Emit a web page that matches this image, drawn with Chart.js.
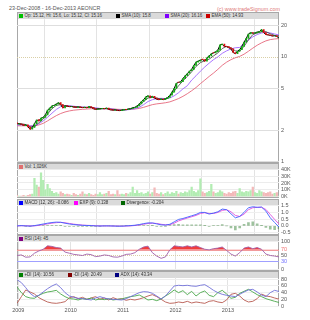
<!DOCTYPE html>
<html><head><meta charset="utf-8">
<script src="https://cdn.jsdelivr.net/npm/chart.js@4.4.0/dist/chart.umd.min.js"></script>
<style>
html,body{margin:0;padding:0;background:#fff;width:310px;height:320px;overflow:hidden;font-family:"Liberation Sans",Arial,sans-serif;}
body{position:relative;}
canvas{position:absolute;left:0;}
.frame{position:absolute;left:17px;width:262px;border:1px solid #a8a8a8;box-sizing:border-box;}
.bar{position:absolute;left:18px;width:260px;height:6px;background:#dadada;}
.lg{position:absolute;top:0;font-size:4.5px;line-height:6px;color:#333;white-space:nowrap;letter-spacing:-0.05px;}
.sq{display:inline-block;width:4px;height:4px;margin-right:1.5px;vertical-align:-0.5px;}
.txt{position:absolute;white-space:nowrap;}
</style>
</head><body>
<div class="txt" style="left:9px;top:5px;font-size:5.4px;color:#555;">23-Dec-2008 - 16-Dec-2013 AEONCR</div>
<div class="txt" style="right:30px;top:6px;font-size:5.4px;color:#e07878;">(c) www.tradeSignum.com</div>
<script>
// ---------- data ----------
const startYear = 2008.975;
const endYear = 2013.975;
const yearTicks = [2009, 2010, 2011, 2012, 2013];
const priceTicks = [1, 2, 5, 10, 20];
const volumeTicks = [0, 10, 20, 30, 40];
const macdTicks = [-0.5, 0, 0.5, 1, 1.5];
const rsiTicks = [0, 30, 50, 70, 100];
const dmiTicks = [0, 20, 40, 60, 80];

// semi-monthly price samples
const close = [2.31,2.30,2.27,2.22,2.25,2.15,2.04,2.12,2.30,2.50,
 2.45,2.60,2.65,2.80,3.10,3.25,3.40,3.45,3.55,3.65,
 3.50,3.25,3.40,3.38,3.35,3.36,3.32,3.30,3.33,3.30,
 3.28,3.30,3.27,3.35,3.30,3.20,3.15,3.18,3.20,3.22,
 3.20,3.24,3.15,3.12,3.10,3.12,3.08,3.07,3.10,3.15,
 3.13,3.18,3.20,3.27,3.30,3.40,3.55,3.75,3.90,4.15,
 4.25,4.10,4.20,4.05,3.95,3.90,3.95,3.90,4.00,4.10,
 4.30,4.60,5.00,5.60,5.70,5.80,6.20,6.60,6.90,7.30,
 7.60,8.30,8.90,9.10,9.30,9.40,9.10,9.80,10.2,10.7,
 10.9,11.2,11.6,13.0,13.2,12.6,12.5,12.2,11.9,11.0,
 10.7,11.3,11.7,12.6,13.8,15.0,16.5,17.0,16.8,16.9,
 17.2,17.4,18.2,17.0,16.3,16.2,16.0,15.8,15.9,15.6,
 15.16];
const open = [2.35,2.28,2.30,2.27,2.20,2.25,2.14,2.04,2.12,2.30,
 2.52,2.45,2.60,2.65,2.80,3.10,3.25,3.42,3.45,3.55,
 3.66,3.50,3.25,3.42,3.38,3.34,3.36,3.32,3.30,3.33,
 3.30,3.28,3.30,3.27,3.35,3.30,3.20,3.15,3.18,3.20,
 3.22,3.20,3.24,3.15,3.12,3.10,3.12,3.08,3.07,3.10,
 3.15,3.13,3.18,3.20,3.27,3.30,3.40,3.55,3.75,3.90,
 4.15,4.25,4.10,4.20,4.05,3.95,3.90,3.95,3.90,4.00,
 4.10,4.30,4.60,5.00,5.75,5.70,5.80,6.20,6.60,7.00,
 7.40,7.60,8.30,8.90,9.10,9.50,9.40,9.10,9.80,10.2,
 11.0,10.9,11.2,11.6,13.0,13.2,12.6,12.5,12.2,11.9,
 11.0,10.7,11.3,11.7,12.6,13.8,15.0,16.5,17.0,16.8,
 16.9,17.2,17.4,18.2,17.0,16.3,16.2,16.0,15.8,15.9,
 15.12];
// volume, thousands
const volume = [2,1,1,2,1,2,3,4,27,17,
 14,35,24,10,18,12,8,5,6,4,
 7,5,3,4,3,2,5,3,2,4,
 7,4,3,5,3,2,4,3,6,3,
 4,5,8,3,4,3,9,3,4,3,
 5,4,6,14,5,9,5,6,4,5,
 7,4,6,13,5,4,6,3,5,7,
 4,6,5,8,4,6,5,7,6,9,
 14,8,6,9,26,7,5,6,8,18,
 7,5,6,9,7,5,4,6,5,7,
 8,5,12,7,6,8,7,9,14,6,
 5,9,7,6,5,6,7,4,5,6,
 1];

// monthly indicator samples
const sma10 = [2.30,2.30,2.26,2.15,2.15,2.35,2.55,2.85,3.20,3.45,
 3.50,3.42,3.38,3.35,3.32,3.30,3.30,3.30,3.22,3.18,
 3.21,3.20,3.14,3.10,3.10,3.14,3.20,3.28,3.45,3.75,
 4.05,4.10,4.05,3.95,3.95,4.20,4.70,5.30,5.90,6.50,
 7.20,8.10,8.80,9.20,9.50,10.2,10.9,12.0,12.6,12.2,
 11.4,11.3,12.6,14.5,16.3,16.9,17.3,17.4,16.6,16.0,
 15.8];
const sma20 = [2.23,2.25,2.24,2.20,2.20,2.30,2.45,2.65,2.90,3.15,
 3.35,3.42,3.42,3.38,3.34,3.32,3.30,3.30,3.27,3.22,
 3.20,3.20,3.18,3.13,3.10,3.12,3.15,3.20,3.30,3.50,
 3.75,3.90,4.00,4.02,4.00,4.05,4.25,4.55,4.95,5.30,
 6.00,6.60,7.30,8.00,8.70,9.40,10.0,10.8,11.4,11.9,
 12.2,12.3,13.5,14.5,15.5,16.3,16.9,17.1,16.9,16.5,
 16.16];
const ema50 = [2.20,2.20,2.20,2.19,2.20,2.24,2.32,2.45,2.60,2.75,
 2.88,2.98,3.05,3.10,3.13,3.16,3.18,3.20,3.20,3.20,
 3.20,3.20,3.18,3.16,3.15,3.15,3.16,3.18,3.22,3.30,
 3.40,3.50,3.56,3.60,3.65,3.72,3.85,4.00,4.20,4.45,
 4.75,5.10,5.55,6.00,6.50,7.00,7.60,8.30,8.90,9.40,
 9.80,10.1,10.6,11.3,12.1,12.9,13.6,14.2,14.6,14.8,
 14.93];
const macd = [0.00,0.02,0.00,-0.02,0.02,0.08,0.14,0.20,0.25,0.28,
 0.27,0.20,0.14,0.10,0.07,0.04,0.03,0.02,0.00,-0.01,
 0.00,0.00,-0.01,-0.02,-0.02,0.00,0.02,0.05,0.10,0.17,
 0.22,0.22,0.15,0.08,0.06,0.12,0.30,0.48,0.55,0.65,
 0.75,0.85,1.00,1.00,0.88,0.95,1.05,1.25,1.20,0.90,
 0.60,0.70,1.00,1.35,1.42,1.38,1.40,1.10,0.60,0.25,
 -0.086];
const signal = [0.00,0.01,0.01,0.00,0.00,0.04,0.09,0.15,0.20,0.24,
 0.26,0.23,0.18,0.13,0.09,0.06,0.04,0.03,0.01,0.00,
 0.00,0.00,-0.01,-0.01,-0.02,-0.01,0.00,0.03,0.07,0.12,
 0.18,0.20,0.18,0.12,0.08,0.09,0.20,0.37,0.48,0.58,
 0.68,0.78,0.92,0.98,0.92,0.92,1.00,1.15,1.20,1.05,
 0.78,0.70,0.88,1.20,1.35,1.38,1.38,1.22,0.85,0.48,
 0.138];
const divergence = [0.00,0.01,-0.01,-0.02,0.02,0.04,0.05,0.05,0.05,0.04,
 0.01,-0.03,-0.04,-0.03,-0.02,-0.02,-0.01,-0.01,-0.01,-0.01,
 0.00,0.00,0.00,-0.01,0.00,0.01,0.02,0.02,0.03,0.05,
 0.04,0.02,-0.03,-0.04,-0.02,0.03,0.10,0.11,0.07,0.07,
 0.07,0.07,0.08,0.02,-0.04,0.03,0.05,0.10,0.00,-0.15,
 -0.30,-0.15,0.12,0.25,0.30,0.15,0.02,-0.12,-0.25,-0.28,
 -0.204];
const rsi = [50,52,44,45,58,66,72,84,82,78,
 76,62,58,54,52,50,55,53,46,48,
 52,50,45,44,48,54,55,60,72,80,
 83,60,48,40,45,70,84,82,80,84,
 80,84,78,72,70,74,76,80,68,55,
 48,60,76,80,74,78,72,55,50,48,
 45];
const plusDI = [57,40,28,24,23,32,38,42,44,47,
 36,28,22,21,18,22,20,24,18,21,
 19,22,18,20,21,25,28,30,33,26,
 18,20,16,21,30,38,48,40,46,34,
 44,30,40,45,32,28,40,47,36,23,
 26,38,44,50,42,34,28,22,18,14,
 10.56];
const minusDI = [8,28,48,42,36,25,18,12,9,8,
 10,13,25,28,22,26,20,24,28,20,
 24,18,25,20,22,17,20,18,21,25,
 30,34,28,20,12,8,9,12,10,14,
 9,12,10,8,14,16,12,10,18,35,
 38,30,18,12,14,22,36,30,28,24,
 20.49];
const adx = [79,70,55,38,28,32,42,52,60,66,
 55,40,30,26,23,22,20,18,24,28,
 24,21,20,19,18,22,28,34,40,43,
 42,38,30,21,30,45,60,62,61,62,
 60,59,62,64,56,47,40,35,32,30,
 28,35,42,48,50,42,33,28,40,47,
 43.34];

// ---------- helpers ----------
const tHalf = close.map((_, i) => startYear + i / 24);
const tMonth = sma10.map((_, i) => startYear + i / 12);
const pts = (t, arr) => arr.map((v, i) => ({x: t[i], y: v}));
const up = close.map((c, i) => c >= open[i]);

Chart.defaults.font.family = "'Liberation Sans', Arial, sans-serif";
Chart.defaults.font.size = 5.5;
Chart.defaults.color = '#555';

const refLinePlugin = {
  id: 'refLines',
  beforeDatasetsDraw(chart, args, opts) {
    const lines = (opts && opts.lines) || [];
    const {ctx, chartArea: a, scales: {y}} = chart;
    lines.forEach(l => {
      const py = Math.round(y.getPixelForValue(l.value)) + 0.5;
      ctx.save();
      ctx.strokeStyle = l.color; ctx.lineWidth = 1;
      ctx.setLineDash(l.dash || []);
      ctx.beginPath(); ctx.moveTo(a.left, py); ctx.lineTo(a.right, py); ctx.stroke();
      ctx.restore();
    });
  }
};

function addFrame(legendTop, plotBottom, items) {
  const f = document.createElement('div');
  f.className = 'frame';
  f.style.top = legendTop + 'px';
  f.style.height = (plotBottom - legendTop + 1) + 'px';
  document.body.appendChild(f);
  const b = document.createElement('div');
  b.className = 'bar';
  b.style.top = (legendTop + 1) + 'px';
  document.body.appendChild(b);
  items.forEach(it => {
    const s = document.createElement('div');
    s.className = 'lg';
    s.style.left = (it.x - 18) + 'px';
    s.innerHTML = '<span class="sq" style="background:' + it.c + '"></span>' + it.t;
    b.appendChild(s);
  });
}

function makePanel(o) {
  const padT = 5, padB = o.bottomAxis ? 10 : 5;
  const c = document.createElement('canvas');
  c.width = 310; c.height = o.height + padT + padB;
  c.style.top = (o.top - padT) + 'px';
  document.body.appendChild(c);
  const yTicks = o.yTicks;
  new Chart(c, {
    data: {datasets: o.datasets},
    options: {
      responsive: false, animation: false, events: [],
      layout: {padding: {left: 17, right: 0, top: padT, bottom: o.bottomAxis ? 0 : padB}},
      plugins: {legend: {display: false}, tooltip: {enabled: false}, refLines: {lines: o.refLines || []}},
      scales: {
        x: {
          type: 'linear', min: startYear, max: endYear, offset: false,
          afterBuildTicks: ax => { ax.ticks = yearTicks.map(v => ({value: v})); },
          afterFit: ax => { ax.height = o.bottomAxis ? padB : 0; },
          grid: {color: '#e3e3e3', drawTicks: false},
          border: {display: false},
          ticks: {display: !!o.bottomAxis, color: '#555', font: {size: 5.5}, padding: 1,
                  maxRotation: 0, autoSkip: false, callback: v => String(v)}
        },
        y: {
          type: o.yType || 'linear', position: 'right', min: o.min, max: o.max,
          afterBuildTicks: ax => { ax.ticks = yTicks.map(v => ({value: v})); },
          afterFit: ax => { ax.width = 31; },
          grid: {drawTicks: false, color: o.gridColor || '#e6e6e6'},
          border: {display: false},
          ticks: {padding: 2, autoSkip: false, font: {size: 5.5}, color: o.tickColor || '#555',
                  callback: o.fmt || (v => String(v))}
        }
      }
    },
    plugins: [refLinePlugin]
  });
}

const line = (t, arr, color, w, order) => ({type: 'line', data: pts(t, arr), borderColor: color,
  borderWidth: w, pointRadius: 0, tension: 0, fill: false, order});

// ---------- main price panel ----------
addFrame(12, 162, [
  {x: 19, c: '#00c000', t: 'Op: 15.12, Hi: 15.6, Lo: 15.12, Cl: 15.16'},
  {x: 116, c: '#000000', t: 'SMA (10): 15.8'},
  {x: 165, c: '#8000ff', t: 'SMA (20): 16.16'},
  {x: 206, c: '#cc0000', t: 'EMA (50): 14.93'}
]);
makePanel({
  top: 19, height: 143, yType: 'logarithmic', min: 1, max: 22.8, yTicks: priceTicks,
  gridColor: ctx => (ctx.tick && ctx.tick.value === 10) ? 'rgba(0,0,0,0)' : '#dedede',
  refLines: [{value: 10, color: '#d9cfa6', dash: [1, 1]}],
  datasets: [
    {type: 'bar', data: close.map((c, i) => ({x: tHalf[i], y: [open[i], c]})),
     backgroundColor: up.map(u => u ? '#14a814' : '#d81010'), barThickness: 1.1, order: 1},
    line(tHalf, close, '#000000', 1, 2),
    line(tMonth, sma10, '#3a3a3a', 0.8, 3),
    line(tMonth, sma20, '#a066ff', 0.9, 4),
    line(tMonth, ema50, '#e5677a', 0.9, 5)
  ]
});

// ---------- volume ----------
addFrame(163, 197, [{x: 19, c: '#e07070', t: 'Vol: 1,026K'}]);
makePanel({
  top: 169, height: 28, min: 0, max: 40, yTicks: volumeTicks, fmt: v => v + 'K',
  gridColor: '#ececec',
  datasets: [
    {type: 'bar', data: pts(tHalf, volume),
     backgroundColor: up.map(u => u ? '#b2ecb2' : '#f3b9b9'), barThickness: 1.6}
  ]
});

// ---------- MACD ----------
addFrame(199, 234, [
  {x: 19, c: '#0000ff', t: 'MACD (12, 26): -0.086'},
  {x: 74, c: '#ff00ff', t: 'EXP (9): 0.138'},
  {x: 121, c: '#006600', t: 'Divergence: -0.204'}
]);
makePanel({
  top: 205, height: 29, min: -0.58, max: 1.53, yTicks: macdTicks, fmt: v => v.toFixed(1),
  gridColor: '#efefef',
  datasets: [
    {type: 'bar', data: pts(tMonth, divergence), backgroundColor: 'rgba(40,120,40,0.45)', barThickness: 2, order: 3},
    line(tMonth, signal, '#e050e0', 0.9, 2),
    line(tMonth, macd, '#4060ff', 0.9, 1)
  ]
});

// ---------- RSI ----------
addFrame(235, 270, [{x: 19, c: '#800080', t: 'RSI (14): 45'}]);
makePanel({
  top: 241, height: 29, min: 0, max: 100, yTicks: rsiTicks,
  tickColor: ctx => ctx.tick.value === 70 ? '#f07070' : (ctx.tick.value === 30 ? '#7070ff' : '#555'),
  gridColor: ctx => (ctx.tick && [30, 50, 70].includes(ctx.tick.value)) ? 'rgba(0,0,0,0)' : '#eeeeee',
  refLines: [{value: 70, color: '#f29a9a'}, {value: 30, color: '#a0a0ff'}, {value: 50, color: '#d9cfa6', dash: [1, 1]}],
  datasets: [
    {type: 'line', data: pts(tMonth, rsi), borderColor: '#a060a8', borderWidth: 0.9, pointRadius: 0, tension: 0,
     fill: {target: {value: 70}, above: 'rgba(240,50,50,0.95)', below: 'rgba(0,0,0,0)'}}
  ]
});

// ---------- DMI / ADX ----------
addFrame(271, 306, [
  {x: 19, c: '#008000', t: '+DI (14): 10.56'},
  {x: 68, c: '#800000', t: '-DI (14): 20.49'},
  {x: 115, c: '#000080', t: 'ADX (14): 43.34'}
]);
makePanel({
  top: 277, height: 29, min: 0, max: 86, yTicks: dmiTicks, bottomAxis: true,
  gridColor: '#efefef',
  datasets: [
    line(tMonth, minusDI, '#b85a50', 0.9, 3),
    line(tMonth, plusDI, '#4aa84a', 0.9, 2),
    line(tMonth, adx, '#7070d8', 0.9, 1)
  ]
});
</script>
</body></html>
